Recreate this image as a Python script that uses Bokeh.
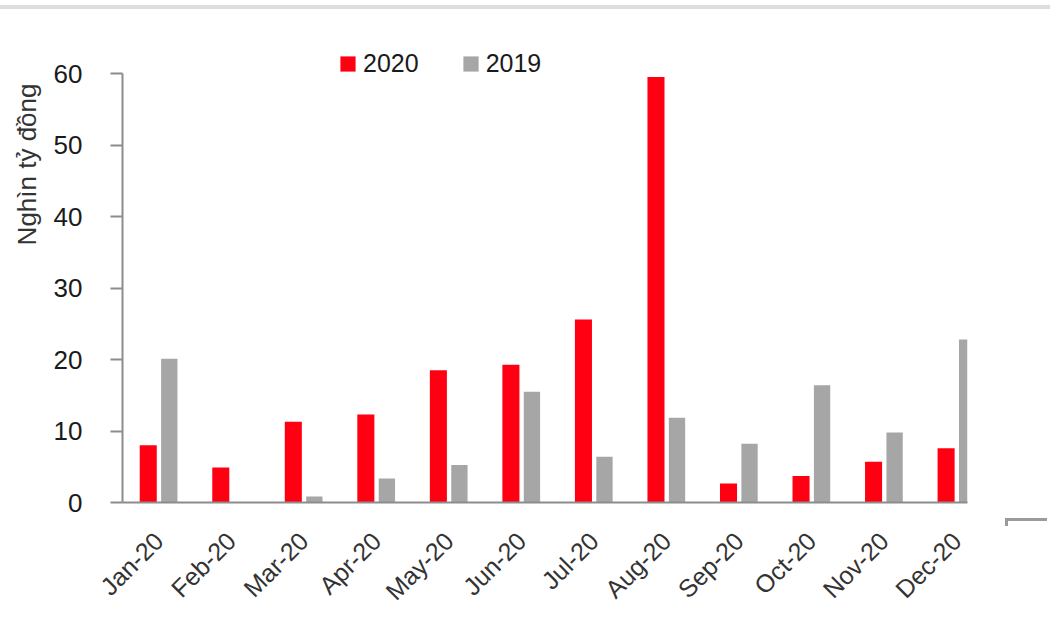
import math
from bokeh.plotting import figure
from bokeh.models import (ColumnDataSource, Range1d, FixedTicker, Legend, LegendItem,
                          Title, Div)
from bokeh.layouts import column, row
from bokeh.transform import dodge
from bokeh.embed import file_html
from bokeh.resources import INLINE

months = ["Jan-20", "Feb-20", "Mar-20", "Apr-20", "May-20", "Jun-20",
          "Jul-20", "Aug-20", "Sep-20", "Oct-20", "Nov-20", "Dec-20"]
v2020 = [8.0, 4.9, 11.3, 12.3, 18.5, 19.25, 25.6, 59.5, 2.65, 3.7, 5.7, 7.6]
v2019 = [20.1, 0.0, 0.85, 3.35, 5.25, 15.5, 6.4, 11.85, 8.2, 16.4, 9.8, 22.8]
y_ticks = [0, 10, 20, 30, 40, 50, 60]
y_label = "Nghìn tỷ đồng"

RED = "#FF0012"
GRAY = "#A6A6A6"
AXIS = "#8C8C8C"
FONT = "Liberation Sans"

# frame: canvas y 43..502 (figure sits 10px below page top); 0..60 spans 502..73
Y_TOP = 60 * (502 - 43) / (502 - 73)

src = ColumnDataSource(dict(x=list(range(len(months))), a=v2020, b=v2019))

p = figure(width=1005, height=620, output_backend="svg", toolbar_location=None,
           x_range=Range1d(-0.5, 11.15), y_range=Range1d(0, Y_TOP),
           min_border_left=122, min_border_right=38, min_border_top=33,
           min_border_bottom=128, margin=0)
p.outline_line_color = None
p.grid.grid_line_color = None
p.background_fill_color = "white"
p.border_fill_color = "white"

r1 = p.vbar(x=dodge("x", -0.145, range=p.x_range), top="a", width=0.235,
            source=src, fill_color=RED, line_color=None)
r2 = p.vbar(x=dodge("x", 0.145, range=p.x_range), top="b", width=0.225,
            source=src, fill_color=GRAY, line_color=None)

# y axis
ya = p.yaxis[0]
ya.ticker = FixedTicker(ticks=y_ticks)
ya.bounds = (0, 60)
ya.minor_tick_line_color = None
ya.major_tick_in = 0
ya.major_tick_out = 12
ya.major_tick_line_color = AXIS
ya.major_tick_line_width = 2
ya.axis_line_color = AXIS
ya.axis_line_width = 2
ya.major_label_text_font = FONT
ya.major_label_text_font_size = "26px"
ya.major_label_text_color = "#1a1a1a"
ya.major_label_standoff = 28

# y-axis title as a left-side title, aligned towards the top of the axis
p.add_layout(Title(text=y_label, align="right", offset=40, standoff=18,
                   text_font=FONT, text_font_size="26px",
                   text_font_style="normal", text_color="#333333"), "left")

# x axis
xa = p.xaxis[0]
xa.ticker = FixedTicker(ticks=list(range(len(months))))
xa.major_label_overrides = {i: m for i, m in enumerate(months)}
xa.major_label_orientation = math.pi / 4
xa.minor_tick_line_color = None
xa.major_tick_in = 0
xa.major_tick_out = 0
xa.axis_line_color = AXIS
xa.axis_line_width = 2
xa.major_label_text_font = FONT
xa.major_label_text_font_size = "25px"
xa.major_label_text_color = "#333333"
xa.major_label_standoff = 34

legend = Legend(items=[LegendItem(label="2020", renderers=[r1]),
                       LegendItem(label="2019", renderers=[r2])],
                orientation="horizontal", location=(216, 424),
                border_line_color=None, background_fill_alpha=0,
                padding=0, margin=0, spacing=42,
                glyph_width=19, glyph_height=19, label_height=19,
                label_standoff=6,
                label_text_font=FONT, label_text_font_size="25px",
                label_text_color="#1a1a1a")
p.add_layout(legend, "center")

top_rule = Div(width=1050, height=10, margin=0,
               text='<div style="position:absolute;left:0;top:5px;width:1050px;'
                    'height:4px;background:#DDDDDD;"></div>')
corner = Div(width=45, height=620, margin=0,
             text='<div style="position:absolute;left:0;top:508px;width:42px;height:8px;'
                  'border-top:3px solid #9A9A9A;border-left:3px solid #9A9A9A;"></div>')

layout = column(top_rule, row(p, corner, spacing=0, margin=0), spacing=0, margin=0)

open("out.html", "w").write(file_html(layout, INLINE))
